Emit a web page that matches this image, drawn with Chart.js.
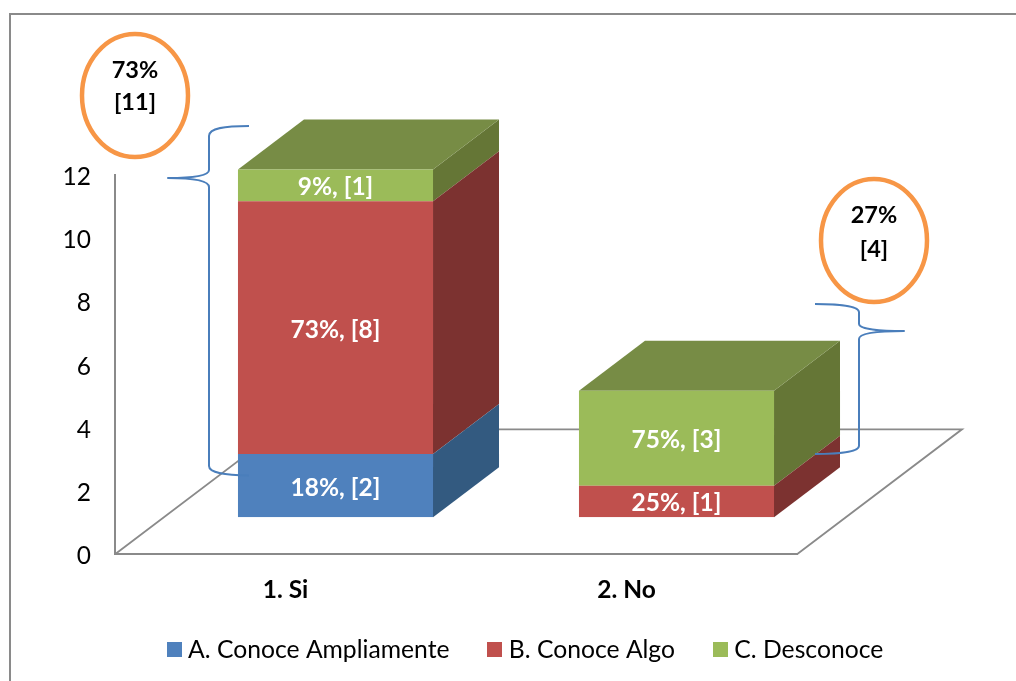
<!DOCTYPE html>
<html><head><meta charset="utf-8">
<style>html,body{margin:0;padding:0;background:#fff}#w{position:relative;width:1016px;height:681px}</style>
<script src="https://cdn.jsdelivr.net/npm/chart.js@4"></script>
</head><body><div id="w"><canvas id="c" width="1016" height="681"></canvas></div>
<script>
const categories = ['1. Si', '2. No'];
const seriesNames = ['A. Conoce Ampliamente', 'B. Conoce Algo', 'C. Desconoce'];
const conoceAmpliamente = [2, 0];
const conoceAlgo = [8, 1];
const desconoce = [1, 3];
const labelsAmpliamente = ['18%, [2]', ''];
const labelsAlgo = ['73%, [8]', '25%, [1]'];
const labelsDesconoce = ['9%, [1]', '75%, [3]'];
const calloutTexts = [['73%', '[11]'], ['27%', '[4]']];

const FONT = 'Lato, Carlito, sans-serif';
const front = ['#4f81bd', '#c0504d', '#9bbb59'];
const side = ['#335a80', '#7c3230', '#657636'];
const topFace = '#778c45';
const dataLabels = [labelsAmpliamente, labelsAlgo, labelsDesconoce];
const GRAY = '#8a8a8a';
const SHIFT = {x: 50, y: -37}, DEPTH = {x: 66, y: -50}, FLOOR = {x: 165, y: -125};

function swatch(color) {
  const c = document.createElement('canvas');
  c.width = 15; c.height = 15;
  const g = c.getContext('2d');
  g.fillStyle = color; g.fillRect(0, 0, 15, 15);
  return c;
}
function poly(ctx, pts, fill) {
  ctx.beginPath();
  pts.forEach((p, i) => i ? ctx.lineTo(p[0], p[1]) : ctx.moveTo(p[0], p[1]));
  ctx.closePath();
  ctx.fillStyle = fill;
  ctx.fill();
}
const threeD = {
  id: 'threeD',
  afterLayout(chart) {
    chart.legend.top -= 9;
    chart.legend.bottom -= 9;
  },
  beforeDraw(chart) {
    const ctx = chart.ctx;
    ctx.save();
    ctx.strokeStyle = GRAY; ctx.lineWidth = 2;
    ctx.beginPath(); ctx.moveTo(10, 681); ctx.lineTo(10, 14); ctx.lineTo(1016, 14); ctx.stroke();
    ctx.restore();
  },
  beforeDatasetsDraw(chart) {
    const ctx = chart.ctx, a = chart.chartArea;
    ctx.save();
    ctx.strokeStyle = GRAY; ctx.lineWidth = 1.8;
    ctx.beginPath();
    ctx.moveTo(a.left, a.bottom);
    ctx.lineTo(a.left + FLOOR.x, a.bottom + FLOOR.y);
    ctx.lineTo(a.right + FLOOR.x, a.bottom + FLOOR.y);
    ctx.lineTo(a.right, a.bottom);
    ctx.stroke();
    ctx.restore();
  },
  beforeDatasetDraw(chart, args) {
    const ctx = chart.ctx;
    ctx.save();
    ctx.translate(SHIFT.x, SHIFT.y);
    chart.getDatasetMeta(args.index).data.forEach((el, j) => {
      if (!chart.data.datasets[args.index].data[j]) return;
      const w = el.width / 2, r = el.x + w, l = el.x - w;
      poly(ctx, [[r, el.y], [r + DEPTH.x, el.y + DEPTH.y], [r + DEPTH.x, el.base + DEPTH.y], [r, el.base]], side[args.index]);
      const above = chart.data.datasets.slice(args.index + 1).some(d => d.data[j]);
      if (!above) poly(ctx, [[l, el.y], [l + DEPTH.x, el.y + DEPTH.y], [r + DEPTH.x, el.y + DEPTH.y], [r, el.y]], topFace);
    });
  },
  afterDatasetDraw(chart, args) {
    const ctx = chart.ctx;
    ctx.font = 'bold 24.5px ' + FONT;
    ctx.fillStyle = '#fff';
    ctx.textAlign = 'center';
    ctx.textBaseline = 'middle';
    chart.getDatasetMeta(args.index).data.forEach((el, j) => {
      const t = dataLabels[args.index][j];
      if (t) ctx.fillText(t, el.x, (el.y + el.base) / 2 + 2);
    });
    ctx.restore();
  },
  afterDraw(chart) {
    const ctx = chart.ctx;
    ctx.save();
    ctx.strokeStyle = '#4a7ebb'; ctx.lineWidth = 2; ctx.lineJoin = 'round';
    ctx.beginPath();
    ctx.moveTo(249, 126);
    ctx.bezierCurveTo(225, 126, 209, 128, 209, 136);
    ctx.lineTo(209, 170);
    ctx.bezierCurveTo(209, 176, 190, 178, 168, 178);
    ctx.bezierCurveTo(190, 178, 209, 180, 209, 187);
    ctx.lineTo(209, 466);
    ctx.bezierCurveTo(209, 473, 225, 475, 249, 475.5);
    ctx.stroke();
    ctx.beginPath();
    ctx.moveTo(815, 304);
    ctx.bezierCurveTo(838, 304, 859, 306, 859, 312);
    ctx.lineTo(859, 324);
    ctx.bezierCurveTo(859, 329, 880, 331, 904, 331);
    ctx.bezierCurveTo(880, 331, 859, 333, 859, 339);
    ctx.lineTo(859, 446);
    ctx.bezierCurveTo(859, 452, 838, 454, 815, 454);
    ctx.stroke();
    const ovals = [{x: 135, y: 95.5, t: [70, 102]}, {x: 874, y: 240.5, t: [215, 249]}];
    ovals.forEach((o, i) => {
      ctx.strokeStyle = '#f79646'; ctx.lineWidth = 4.5;
      ctx.beginPath(); ctx.ellipse(o.x, o.y, 53, 61.5, 0, 0, Math.PI * 2); ctx.stroke();
      ctx.fillStyle = '#000';
      ctx.font = 'bold 23.5px ' + FONT;
      ctx.textAlign = 'center'; ctx.textBaseline = 'middle';
      calloutTexts[i].forEach((s, k) => ctx.fillText(s, o.x, o.t[k]));
    });
    ctx.restore();
  }
};

new Chart(document.getElementById('c'), {
  type: 'bar',
  plugins: [threeD],
  data: {
    labels: categories,
    datasets: [conoceAmpliamente, conoceAlgo, desconoce].map((d, i) => ({
      label: seriesNames[i], data: d, backgroundColor: front[i], borderWidth: 0,
      barPercentage: 0.572, categoryPercentage: 1
    }))
  },
  options: {
    responsive: false,
    animation: false,
    layout: {padding: {left: 40, right: 0, top: 175, bottom: 0}},
    plugins: {
      tooltip: {enabled: false},
      legend: {
        position: 'bottom',
        labels: {
          usePointStyle: true, pointStyleWidth: 3, boxHeight: 15, padding: 44,
          color: '#000', font: {family: FONT, size: 24.7},
          generateLabels(chart) {
            return Chart.defaults.plugins.legend.labels.generateLabels(chart).map((it, i) => {
              it.pointStyle = swatch(front[i]);
              return it;
            });
          }
        }
      }
    },
    scales: {
      x: {
        stacked: true,
        grid: {display: false},
        border: {display: true, color: GRAY, width: 2},
        ticks: {color: '#000', padding: 13, font: {family: FONT, size: 24.5, weight: 'bold'}},
        afterFit(s) { s.height = 48; }
      },
      y: {
        stacked: true, min: 0, max: 12,
        grid: {display: false},
        border: {display: true, color: GRAY, width: 2},
        ticks: {stepSize: 2, color: '#000', padding: 16, labelOffset: 2, font: {family: FONT, size: 24.5}},
        afterFit(s) { s.width = 75; }
      },
      spacer: {
        position: 'right', display: true,
        grid: {display: false}, border: {display: false},
        ticks: {display: false},
        afterFit(s) { s.width = 219; }
      }
    }
  }
});
</script></body></html>
